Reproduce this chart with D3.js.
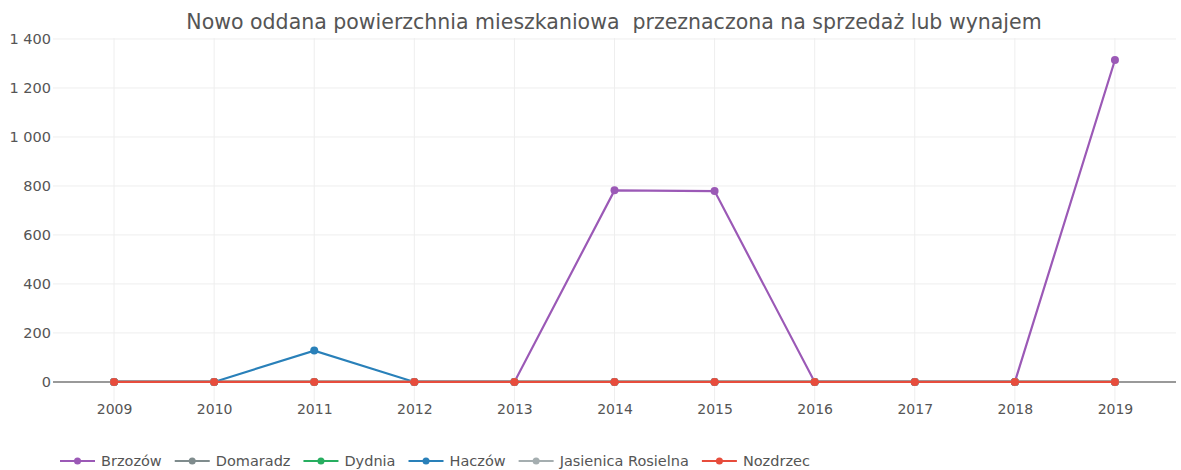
<!DOCTYPE html>
<html><head><meta charset="utf-8">
<script src="https://cdn.jsdelivr.net/npm/d3@7"></script>
<style>body{margin:0;background:#fff}svg{display:block}</style>
</head><body>
<svg id="c" width="1181" height="470"></svg>
<script>
const title = "Nowo oddana powierzchnia mieszkaniowa  przeznaczona na sprzedaż lub wynajem";
const years = [2009, 2010, 2011, 2012, 2013, 2014, 2015, 2016, 2017, 2018, 2019];
const seriesNames = ["Brzozów", "Domaradz", "Dydnia", "Haczów", "Jasienica Rosielna", "Nozdrzec"];
const brzozow = [0, 0, 0, 0, 0, 782, 779, 0, 0, 0, 1314];
const domaradz = [0, 0, 0, 0, 0, 0, 0, 0, 0, 0, 0];
const dydnia = [0, 0, 0, 0, 0, 0, 0, 0, 0, 0, 0];
const haczow = [0, 0, 128, 0, 0, 0, 0, 0, 0, 0, 0];
const jasienica = [0, 0, 0, 0, 0, 0, 0, 0, 0, 0, 0];
const nozdrzec = [0, 0, 0, 0, 0, 0, 0, 0, 0, 0, 0];
const yTicks = [0, 200, 400, 600, 800, 1000, 1200, 1400];
const colors = ["#9b59b6", "#7f8c8d", "#27ae60", "#2980b9", "#a5aeb0", "#e74c3c"];

const seriesValues = [brzozow, domaradz, dydnia, haczow, jasienica, nozdrzec];
const series = seriesNames.map((n, i) => ({name: n, color: colors[i], values: years.map((yr, j) => ({year: yr, v: seriesValues[i][j]}))}));

const svg = d3.select("#c");
const font = "'DejaVu Sans', Verdana, sans-serif";
const pL = 53, pR = 1176, pT = 38, pB = 403;
const x = d3.scaleLinear().domain([2008.39, 2019.61]).range([pL, pR]);
const y = d3.scaleLinear().domain([-86, 1404]).range([pB, pT]);
const fmt = v => d3.format(",")(v).replace(/,/g, " ");

// grid
const g = svg.append("g");
g.selectAll(".vg").data(years).join("line")
  .attr("x1", d => x(d)).attr("x2", d => x(d)).attr("y1", pT).attr("y2", pB)
  .attr("stroke", "#eeeeee").attr("stroke-width", 1);
g.selectAll(".hg").data(yTicks.filter(d => d !== 0)).join("line")
  .attr("x1", pL).attr("x2", pR).attr("y1", d => y(d)).attr("y2", d => y(d))
  .attr("stroke", "#eeeeee").attr("stroke-width", 1);
g.append("line").attr("x1", pL).attr("x2", pR).attr("y1", y(0)).attr("y2", y(0))
  .attr("stroke", "#999999").attr("stroke-width", 2);

// axes
const yAxis = d3.axisLeft(y).tickValues(yTicks).tickFormat(fmt).tickSize(0).tickPadding(0);
const ya = svg.append("g").attr("transform", `translate(${pL - 2},0)`).call(yAxis);
ya.select(".domain").remove();
ya.selectAll("text").attr("font-family", font).attr("font-size", 14.5).attr("fill", "#555");

const xAxis = d3.axisBottom(x).tickValues(years).tickFormat(d3.format("d")).tickSize(0).tickPadding(0);
const xa = svg.append("g").attr("transform", `translate(0,${y(0) + 22})`).call(xAxis);
xa.select(".domain").remove();
xa.selectAll("text").attr("font-family", font).attr("font-size", 14).attr("fill", "#555").attr("dy", "0.71em").attr("y", 0);

// lines
const line = d3.line().x(d => x(d.year)).y(d => y(d.v));
series.forEach(s => {
  const sg = svg.append("g");
  sg.append("path").datum(s.values).attr("d", line).attr("fill", "none")
    .attr("stroke", s.color).attr("stroke-width", 2.2);
  sg.selectAll("circle").data(s.values).join("circle")
    .attr("cx", d => x(d.year)).attr("cy", d => y(d.v)).attr("r", 4).attr("fill", s.color);
});

// title
svg.append("text").attr("x", 614).attr("y", 29).attr("text-anchor", "middle")
  .attr("font-family", font).attr("font-size", 20.5).attr("fill", "#555")
  .style("white-space", "pre").text(title);

// legend
const lg = svg.append("g").attr("transform", "translate(60,461)");
let lx = 0;
series.forEach(s => {
  const it = lg.append("g").attr("transform", `translate(${lx},0)`);
  it.append("line").attr("x1", 0).attr("x2", 35).attr("y1", 0).attr("y2", 0).attr("stroke", s.color).attr("stroke-width", 2);
  it.append("circle").attr("cx", 17.5).attr("cy", 0).attr("r", 3.5).attr("fill", s.color);
  const t = it.append("text").attr("x", 41).attr("y", 0).attr("dy", "0.35em")
    .attr("font-family", font).attr("font-size", 14.5).attr("fill", "#555").text(s.name);
  lx += 41 + t.node().getComputedTextLength() + 13;
});
</script>
</body></html>
